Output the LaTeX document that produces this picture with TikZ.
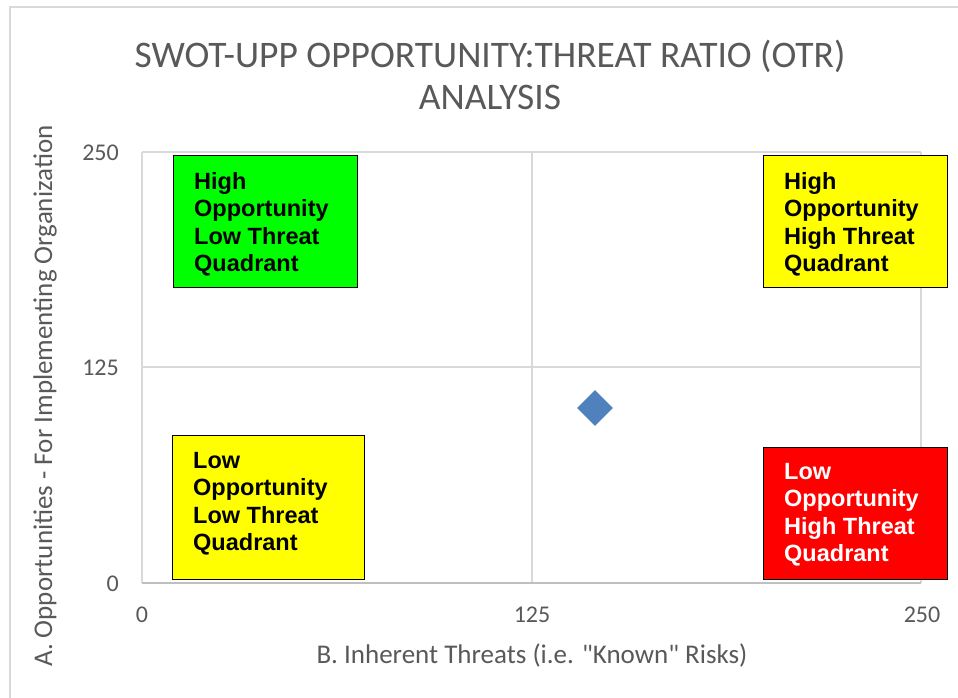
\documentclass[tikz,border=0pt]{standalone}
\usepackage{fontspec}
\setmainfont{Carlito}[Ligatures=TeXOff]
\newfontfamily\arialfont{Liberation Sans}
\usetikzlibrary{shapes.geometric}
\definecolor{gridc}{HTML}{D9D9D9}
\definecolor{axisc}{HTML}{BFBFBF}
\definecolor{txtc}{HTML}{595959}
\definecolor{diamc}{HTML}{4F81BD}
\definecolor{qgreen}{HTML}{00FF00}
\definecolor{qyellow}{HTML}{FFFF00}
\definecolor{qred}{HTML}{FF0000}
\tikzset{
  gridline/.style={draw=gridc, line width=1.5pt},
  quad/.style={draw=black, line width=1.2pt, rectangle, inner sep=0pt, anchor=north west},
  qtext/.style={inner sep=0pt, align=left, anchor=north west,
    font=\arialfont\bfseries\fontsize{23.5}{27.5}\selectfont},
  ticklbl/.style={text=txtc, inner sep=0pt, font=\fontsize{24}{27}\selectfont},
  axtitle/.style={text=txtc, inner sep=0pt, font=\fontsize{27}{30}\selectfont},
  charttitle/.style={text=txtc, inner sep=0pt, align=center, font=\fontsize{37.5}{42}\selectfont},
  marker/.style={diamond, fill=diamc, minimum size=36pt, inner sep=0pt}
}
\begin{document}
\begin{tikzpicture}[x=1pt,y=-1pt]
\useasboundingbox (0,0) rectangle (958,698);
\fill[white] (0,0) rectangle (958,698);
% chart border
\coordinate (bl) at (10,698);
\coordinate (tl) at (10,7);
\coordinate (tr) at (958,7);
\draw[gridline] (bl) -- (tl) -- (tr);
% grid
\coordinate (x0t) at (142,152); \coordinate (x0b) at (142,583);
\coordinate (x1t) at (532,152); \coordinate (x1b) at (532,583);
\coordinate (x2t) at (921,152); \coordinate (x2b) at (921,583);
\coordinate (y2l) at (142,152); \coordinate (y2r) at (921,152);
\coordinate (y1l) at (142,367); \coordinate (y1r) at (921,367);
\coordinate (y0l) at (142,583); \coordinate (y0r) at (921,583);
\draw[gridline] (x0t) -- (x0b);
\draw[gridline] (x1t) -- (x1b);
\draw[gridline] (x2t) -- (x2b);
\draw[gridline] (y2l) -- (y2r);
\draw[gridline] (y1l) -- (y1r);
\draw[gridline, draw=axisc] (y0l) -- (y0r);
% title
\node[charttitle] (title) at (490,75) {SWOT-UPP OPPORTUNITY:THREAT RATIO (OTR)\\ANALYSIS};
% tick labels
\node[ticklbl, anchor=east] (ty250) at (119,152.5) {250};
\node[ticklbl, anchor=east] (ty125) at (119,367.5) {125};
\node[ticklbl, anchor=east] (ty0) at (119,584) {0};
\node[ticklbl] (tx0) at (142,614.5) {0};
\node[ticklbl] (tx125) at (532,614.5) {125};
\node[ticklbl] (tx250) at (922,614.5) {250};
% axis titles
\node[axtitle, rotate=90] (ytitle) at (45,396) {A. Opportunities - For Implementing Organization};
\node[axtitle] (xtitle) at (532,655) {B. Inherent Threats (i.e. "Known" Risks)};
% quadrants
\node[quad, fill=qgreen, minimum width=184pt, minimum height=132pt] (hol) at (173,155) {};
\node[quad, fill=qyellow, minimum width=184pt, minimum height=132pt] (hoh) at (763,155) {};
\node[quad, fill=qyellow, minimum width=192pt, minimum height=144pt] (lol) at (172,435) {};
\node[quad, fill=qred, minimum width=184pt, minimum height=132pt] (loh) at (763,447) {};
\node[qtext] (holt) at ([shift={(21,17)}]hol.north west) {High\\Opportunity\\Low Threat\\Quadrant};
\node[qtext] (hoht) at ([shift={(21,17)}]hoh.north west) {High\\Opportunity\\High Threat\\Quadrant};
\node[qtext] (lolt) at ([shift={(21,17)}]lol.north west) {Low\\Opportunity\\Low Threat\\Quadrant};
\node[qtext, text=white] (loht) at ([shift={(21,16)}]loh.north west) {Low\\Opportunity\\High Threat\\Quadrant};
% data point
\node[marker] (pt) at (595,408) {};
\end{tikzpicture}
\end{document}
